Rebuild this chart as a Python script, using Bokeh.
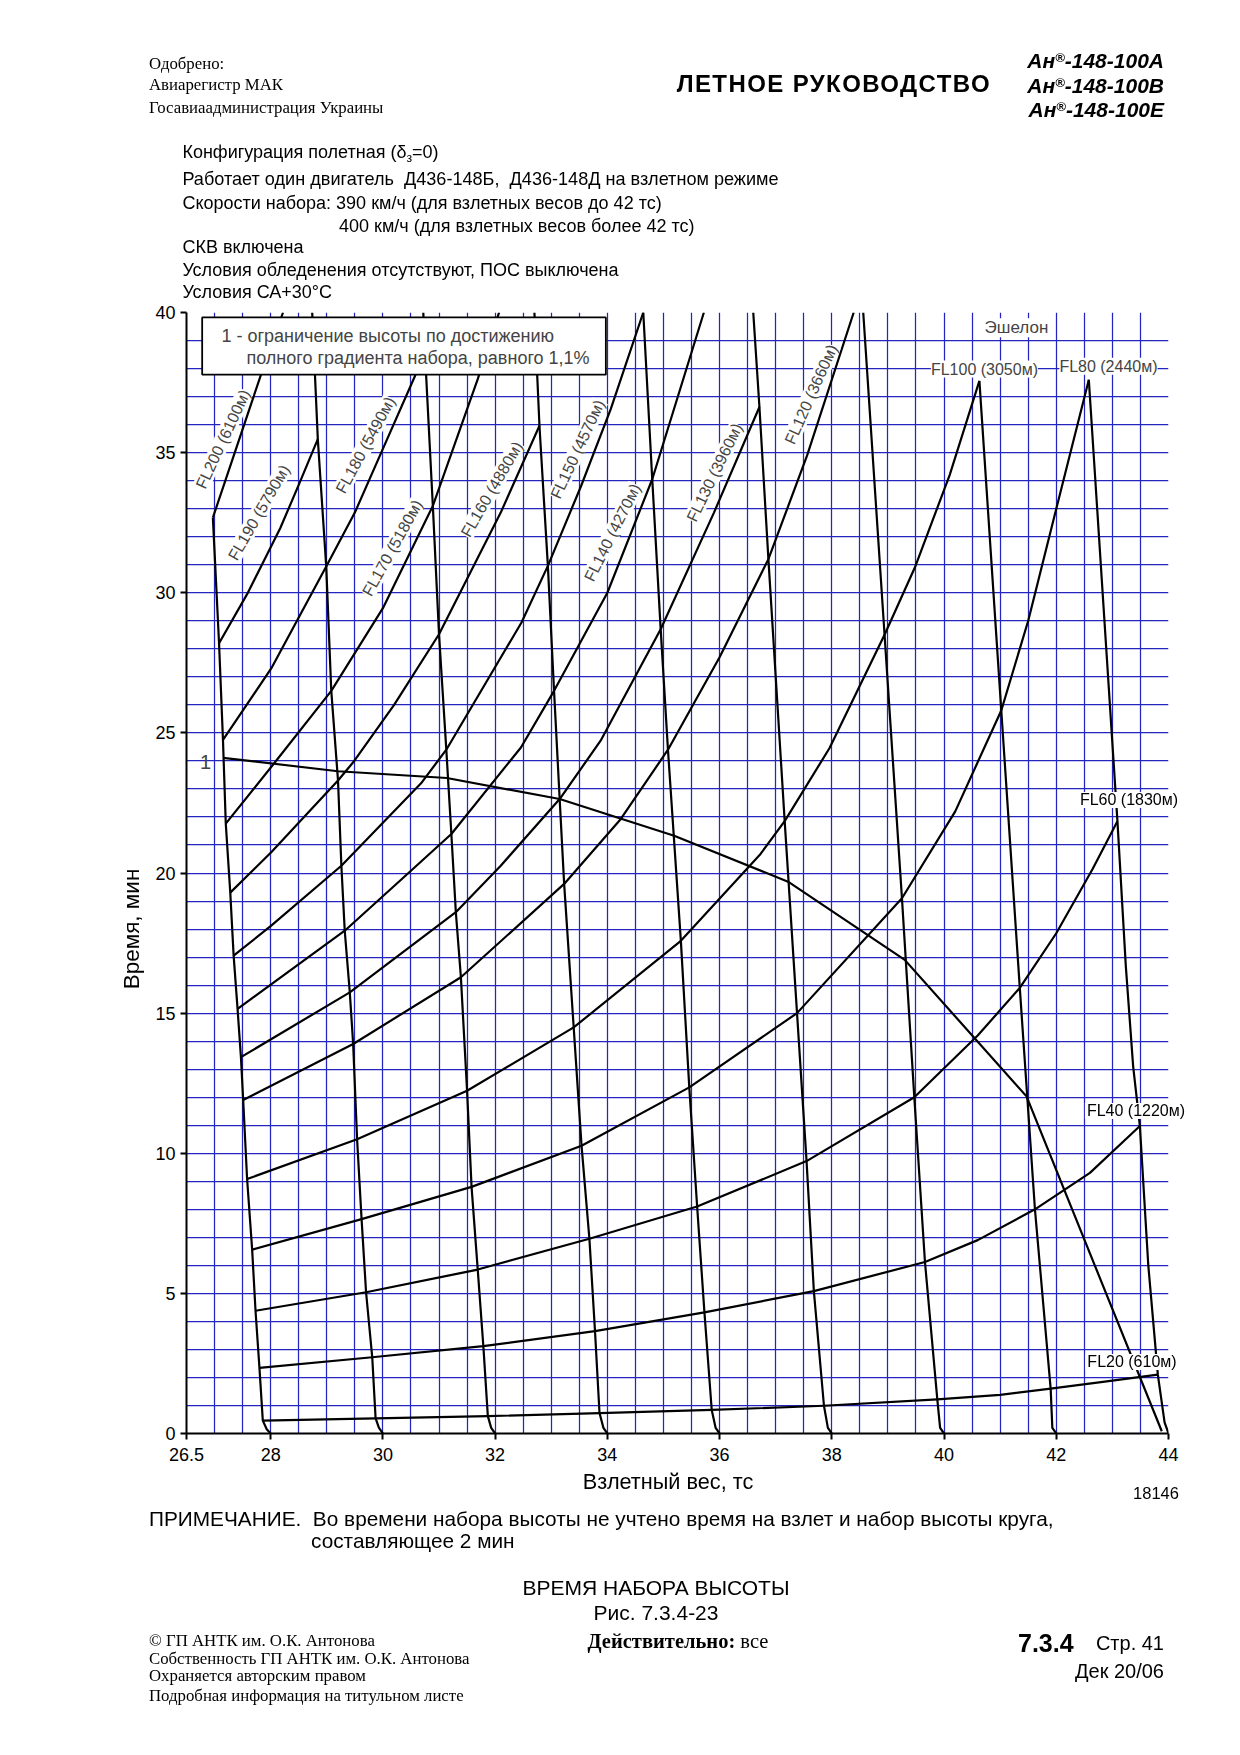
from bokeh.plotting import figure
from bokeh.models import Range1d, FixedTicker, Label, BoxAnnotation, Div
from bokeh.layouts import column
from bokeh.embed import file_html
from bokeh.resources import INLINE

# ---------------- data ----------------
x_ticks = [26.5, 28, 30, 32, 34, 36, 38, 40, 42, 44]
y_ticks = [0, 5, 10, 15, 20, 25, 30, 35, 40]

# flight-level curves: position on weight axis (tc) and climb time (min)
fl20_w = [27.86, 29.87, 31.87, 33.86, 35.86, 37.86, 39.88, 41.0, 41.9, 42.9, 43.81]
fl20_t = [0.46, 0.54, 0.62, 0.73, 0.84, 0.99, 1.22, 1.38, 1.6, 1.86, 2.1]
fl40_w = [27.80, 29.81, 31.79, 33.78, 35.73, 37.68, 39.66, 40.6, 41.62, 42.6, 43.49]
fl40_t = [2.34, 2.72, 3.12, 3.65, 4.32, 5.08, 6.12, 6.9, 8.0, 9.3, 10.97]
fl60_w = [27.73, 29.70, 31.69, 33.68, 35.6, 37.55, 39.47, 40.6, 41.35, 42.0, 42.65, 43.09]
fl60_t = [4.38, 5.04, 5.85, 6.95, 8.1, 9.72, 12.0, 14.2, 15.9, 17.85, 20.15, 21.85]
fl80_w = [27.67, 29.62, 31.58, 33.54, 35.46, 37.38, 39.25, 40.2, 41.02, 41.5, 42.0, 42.58]
fl80_t = [6.56, 7.65, 8.8, 10.27, 12.35, 15.0, 19.1, 22.2, 25.8, 29.0, 33.0, 37.6]
fl100_w = [27.58, 29.54, 31.50, 33.4, 35.31, 36.73, 37.16, 37.96, 38.94, 39.48, 40.1, 40.63]
fl100_t = [9.08, 10.5, 12.23, 14.49, 17.58, 20.68, 21.85, 24.46, 28.5, 30.9, 34.2, 37.56]
fl120_w = [27.51, 29.47, 31.39, 33.23, 34.24, 35.08, 36.0, 36.87, 37.56, 38.39]
fl120_t = [11.9, 13.9, 16.28, 19.61, 21.93, 24.4, 27.7, 31.2, 34.9, 40.0]
fl130_w = [27.47, 29.41, 31.3, 32.1, 33.15, 33.88, 34.95, 35.9, 36.71]
fl130_t = [13.43, 15.74, 18.6, 20.26, 22.64, 24.72, 28.7, 32.86, 36.63]
fl140_w = [27.41, 29.32, 30.5, 31.22, 32.46, 33.05, 34.0, 34.8, 35.72]
fl140_t = [15.15, 17.94, 20.08, 21.39, 24.48, 26.5, 30.0, 34.05, 40.0]
fl150_w = [27.34, 28.01, 29.26, 30.68, 31.13, 32.47, 32.94, 33.53, 34.06, 34.64]
fl150_t = [17.05, 18.12, 20.26, 23.2, 24.4, 28.94, 30.96, 33.8, 36.55, 40.0]
fl160_w = [27.28, 28.01, 29.2, 29.47, 30.2, 31.0, 32.1, 32.79]
fl160_t = [19.3, 20.74, 23.3, 23.95, 26.0, 28.52, 32.86, 35.96]
fl170_w = [27.20, 28.08, 29.08, 30.0, 30.89, 31.69, 32.07]
fl170_t = [21.76, 23.96, 26.5, 29.45, 33.1, 37.62, 40.0]
fl180_w = [27.15, 28.01, 28.99, 29.5, 29.97, 30.56, 30.75]
fl180_t = [24.75, 27.3, 30.94, 32.86, 35.0, 37.68, 38.55]
fl190_w = [27.08, 27.58, 28.17, 28.5, 28.84]
fl190_t = [28.2, 29.95, 32.3, 33.85, 35.48]
fl200_w = [26.97, 27.36, 27.82, 28.22]
fl200_t = [32.68, 35.0, 37.74, 40.0]

# takeoff-weight guide lines (28 ... 44 tc), bottom to top
wl28_w = [28.0, 27.93, 27.86, 27.80, 27.73, 27.67, 27.58, 27.51, 27.47, 27.41, 27.34, 27.28, 27.20, 27.15, 27.08, 26.97]
wl28_t = [0.0, 0.15, 0.46, 2.34, 4.38, 6.56, 9.08, 11.9, 13.43, 15.15, 17.05, 19.3, 21.76, 24.75, 28.2, 32.68]
wl30_w = [30.0, 29.93, 29.87, 29.81, 29.70, 29.62, 29.54, 29.47, 29.41, 29.32, 29.26, 29.2, 29.08, 28.99, 28.84, 28.74]
wl30_t = [0.0, 0.2, 0.54, 2.72, 5.04, 7.65, 10.5, 13.9, 15.74, 17.94, 20.26, 23.3, 26.5, 30.94, 35.48, 40.0]
wl32_w = [32.0, 31.93, 31.87, 31.79, 31.69, 31.58, 31.50, 31.39, 31.3, 31.22, 31.13, 31.0, 30.89, 30.75, 30.72]
wl32_t = [0.0, 0.2, 0.62, 3.12, 5.85, 8.8, 12.23, 16.28, 18.6, 21.39, 24.4, 28.52, 33.1, 38.55, 40.0]
wl34_w = [34.0, 33.93, 33.86, 33.78, 33.68, 33.54, 33.4, 33.23, 33.15, 33.05, 32.94, 32.79, 32.7]
wl34_t = [0.0, 0.2, 0.73, 3.65, 6.95, 10.27, 14.49, 19.61, 22.64, 26.5, 30.96, 35.96, 40.0]
wl36_w = [36.0, 35.93, 35.86, 35.73, 35.6, 35.46, 35.31, 35.08, 34.95, 34.8, 34.64]
wl36_t = [0.0, 0.2, 0.84, 4.32, 8.1, 12.35, 17.58, 24.4, 28.7, 34.05, 40.0]
wl38_w = [38.0, 37.93, 37.86, 37.68, 37.55, 37.38, 37.16, 36.87, 36.71, 36.6]
wl38_t = [0.0, 0.2, 0.99, 5.08, 9.72, 15.0, 21.85, 31.2, 36.63, 40.0]
wl40_w = [40.0, 39.93, 39.88, 39.66, 39.47, 39.25, 38.94, 38.56]
wl40_t = [0.0, 0.2, 1.22, 6.12, 12.0, 19.1, 28.5, 40.0]
wl42_w = [42.0, 41.93, 41.9, 41.62, 41.35, 41.02, 40.63]
wl42_t = [0.0, 0.2, 1.6, 8.0, 15.9, 25.8, 37.56]
wl44_w = [44.0, 43.93, 43.81, 43.64, 43.49, 43.37, 43.24, 43.09, 42.58]
wl44_t = [0.0, 0.4, 2.1, 6.0, 10.97, 13.1, 16.66, 21.85, 37.6]

# line 1: altitude limit (full climb gradient 1.1 %)
lim_w = [27.15, 29.2, 31.14, 33.15, 35.19, 37.22, 39.3, 41.47, 43.88]
lim_t = [24.11, 23.63, 23.39, 22.64, 21.33, 19.69, 16.9, 12.03, 0.08]

# ---------------- figure ----------------
p = figure(width=1240, height=1500, x_range=Range1d(26.5, 44), y_range=Range1d(0, 40),
           output_backend="svg", toolbar_location=None,
           min_border_left=186, min_border_right=72, min_border_top=312, min_border_bottom=67)
p.background_fill_color = "white"
p.border_fill_color = "white"
p.outline_line_color = None

GRID = "#2424c0"
p.xgrid.ticker = FixedTicker(ticks=[26.5 + 0.5 * i for i in range(36)])
p.ygrid.ticker = FixedTicker(ticks=list(range(41)))
for g in (p.xgrid, p.ygrid):
    g.grid_line_color = GRID
    g.grid_line_width = 1.25
    g.grid_line_alpha = 1.0

FONT = "Liberation Sans"
for ax in (p.xaxis, p.yaxis):
    ax.axis_line_color = "black"
    ax.axis_line_width = 2
    ax.major_tick_line_color = "black"
    ax.major_tick_line_width = 2
    ax.major_tick_out = 6
    ax.major_tick_in = 0
    ax.minor_tick_line_color = None
    ax.major_label_text_font = FONT
    ax.major_label_text_font_size = "18px"
    ax.major_label_text_color = "black"
p.xaxis.major_label_standoff = 8
p.yaxis.major_label_standoff = 5
p.xaxis.ticker = FixedTicker(ticks=x_ticks)
p.yaxis.ticker = FixedTicker(ticks=y_ticks)
p.xaxis.major_label_overrides = {v: (str(v) if v != int(v) else str(int(v))) for v in x_ticks}
p.yaxis.major_label_overrides = {v: str(v) for v in y_ticks}

fl_w = [fl20_w, fl40_w, fl60_w, fl80_w, fl100_w, fl120_w, fl130_w, fl140_w,
        fl150_w, fl160_w, fl170_w, fl180_w, fl190_w, fl200_w]
fl_t = [fl20_t, fl40_t, fl60_t, fl80_t, fl100_t, fl120_t, fl130_t, fl140_t,
        fl150_t, fl160_t, fl170_t, fl180_t, fl190_t, fl200_t]
wl_w = [wl28_w, wl30_w, wl32_w, wl34_w, wl36_w, wl38_w, wl40_w, wl42_w, wl44_w]
wl_t = [wl28_t, wl30_t, wl32_t, wl34_t, wl36_t, wl38_t, wl40_t, wl42_t, wl44_t]

p.multi_line(xs=fl_w, ys=fl_t, line_color="black", line_width=2.2, line_join="round")
p.multi_line(xs=wl_w, ys=wl_t, line_color="black", line_width=2.2, line_join="round")
p.line(lim_w, lim_t, line_color="black", line_width=2.2, line_join="round")

# page-pixel -> data helper (page coordinates of the 1240x1755 sheet)
def P(X, Y):
    return 28 + (X - 269.3) / 56.2, (1433 - Y) / 28.03

def dlab(text, x, y, size="16px", angle=0, align="center", bg="white"):
    L = Label(x=x, y=y, text=text, text_font=FONT, text_font_size=size, text_align=align,
              text_baseline="middle", angle=angle, angle_units="deg")
    if bg:
        L.background_fill_color = bg
    p.add_layout(L)

# legend box for line 1
bx0, ty0 = P(200.7, 316.7)
bx1, ty1 = P(605.0, 374.0)
p.add_layout(BoxAnnotation(left=bx0, right=bx1, top=ty0, bottom=ty1, fill_color="white",
                           fill_alpha=1.0, line_color="black", line_alpha=1.0, line_width=1.8,
                           level="annotation"))
for t, X, Y in [("1 - ограничение высоты по достижению", 220, 335),
                ("полного градиента набора, равного 1,1%", 245, 357.5)]:
    x, y = P(X, Y)
    p.add_layout(Label(x=x, y=y, text=t, text_font=FONT, text_font_size="18px",
                       text_baseline="middle"))

# curve labels
rot_labels = [("FL200 (6100м)", 27.15, 35.48, 65), ("FL190 (5790м)", 27.79, 32.86, 60),
              ("FL180 (5490м)", 29.69, 35.27, 61.5), ("FL170 (5180м)", 30.17, 31.6, 61),
              ("FL160 (4880м)", 31.94, 33.69, 60), ("FL150 (4570м)", 33.47, 35.12, 65),
              ("FL140 (4270м)", 34.09, 32.15, 63.5), ("FL130 (3960м)", 35.91, 34.29, 64),
              ("FL120 (3660м)", 37.63, 37.08, 66)]
for t, x, y, a in rot_labels:
    dlab(t, x, y, angle=a)
for t, x, y in [("FL100 (3050м)", 40.72, 37.98), ("FL80 (2440м)", 42.93, 38.08)]:
    dlab(t, x, y)
dlab("Эшелон", 41.29, 39.46, size="17px")
dlab("1", 26.84, 23.96, size="20px", bg=None)

# ---------------- page texts (outside the plotting frame) ----------------
def span(text, X, Y, size, family="Liberation Sans", weight="normal", style="normal",
         align="left", angle=0, bg=None, extra=""):
    tx = {"left": "0", "center": "-50%", "right": "-100%"}[align]
    tr = f"translate({tx},-50%)" + (f" rotate({angle}deg)" if angle else "")
    b = f"background:{bg};padding:0 2px;" if bg else ""
    return (f"<span style=\"position:absolute;left:{X}px;top:{Y}px;transform:{tr};"
            f"font-family:'{family}';font-size:{size}px;font-weight:{weight};font-style:{style};"
            f"line-height:1;white-space:nowrap;color:black;{b}{extra}\">{text}</span>")

SER = "Liberation Serif"
REG = "<span style='position:relative;top:-0.45em;font-size:0.62em;line-height:0'>®</span>"
SUBZ = "<span style='position:relative;top:0.35em;font-size:0.68em;line-height:0'>з</span>"
items = [
    span("Одобрено:", 149, 64, 16.8, SER),
    span("Авиарегистр МАК", 149, 85, 16.8, SER),
    span("Госавиаадминистрация Украины", 149, 107.5, 16.8, SER),
    span("ЛЕТНОЕ РУКОВОДСТВО", 991, 84, 24, weight="bold", align="right", extra="letter-spacing:1.4px;"),
    span("Ан" + REG + "-148-100А", 1164, 59.5, 21, weight="bold", style="italic", align="right"),
    span("Ан" + REG + "-148-100В", 1164, 84.5, 21, weight="bold", style="italic", align="right"),
    span("Ан" + REG + "-148-100Е", 1164, 108.5, 21, weight="bold", style="italic", align="right"),
    span("Конфигурация полетная (δ" + SUBZ + "=0)", 182.4, 152.2, 18),
    span("Работает один двигатель&nbsp; Д436-148Б,&nbsp; Д436-148Д на взлетном режиме", 182.4, 178.5, 18.1),
    span("Скорости набора: 390 км/ч (для взлетных весов до 42 тс)", 182.4, 203, 18),
    span("400 км/ч (для взлетных весов более 42 тс)", 339, 225.5, 18),
    span("СКВ включена", 182.4, 246.5, 18),
    span("Условия обледенения отсутствуют, ПОС выключена", 182.4, 269.7, 18),
    span("Условия СА+30°С", 182.4, 292, 18),
    span("Время, мин", 132, 929, 22.5, align="center", angle=-90),
    span("Взлетный вес, тс", 668, 1482, 21.7, align="center"),
    span("18146", 1156, 1493, 16.5, align="center"),
    span("FL60 (1830м)", 1129, 799.5, 16, align="center", bg="white"),
    span("FL40 (1220м)", 1136, 1110.7, 16, align="center", bg="white"),
    span("FL20 (610м)", 1132, 1362, 16, align="center", bg="white"),
    span("ПРИМЕЧАНИЕ.&nbsp; Во времени набора высоты не учтено время на взлет и набор высоты круга,", 149, 1518.6, 20.8),
    span("составляющее 2 мин", 311, 1541, 20.8),
    span("ВРЕМЯ НАБОРА ВЫСОТЫ", 656, 1587, 21, align="center"),
    span("Рис. 7.3.4-23", 656, 1611.5, 21, align="center"),
    span("© ГП АНТК им. О.К. Антонова", 149, 1640.6, 16.8, SER),
    span("Собственность ГП АНТК им. О.К. Антонова", 149, 1658.5, 16.8, SER),
    span("Охраняется авторским правом", 149, 1676.4, 16.8, SER),
    span("Подробная информация на титульном листе", 149, 1695.5, 16.8, SER),
    span("<b>Действительно:</b> все", 587.5, 1640.6, 20.5, SER),
    span("7.3.4", 1018, 1643, 25, weight="bold"),
    span("Стр. 41", 1164, 1643, 20, align="right"),
    span("Дек 20/06", 1164, 1670.8, 20, align="right"),
]
page_html = ("<div style=\"position:fixed;left:0;top:0;width:1240px;height:1755px;"
             "pointer-events:none;\">" + "".join(items) + "</div>")
texts = Div(text=page_html, width=1240, height=10)

layout = column(p, texts, spacing=0)
open("out.html", "w", encoding="utf-8").write(file_html(layout, INLINE))
